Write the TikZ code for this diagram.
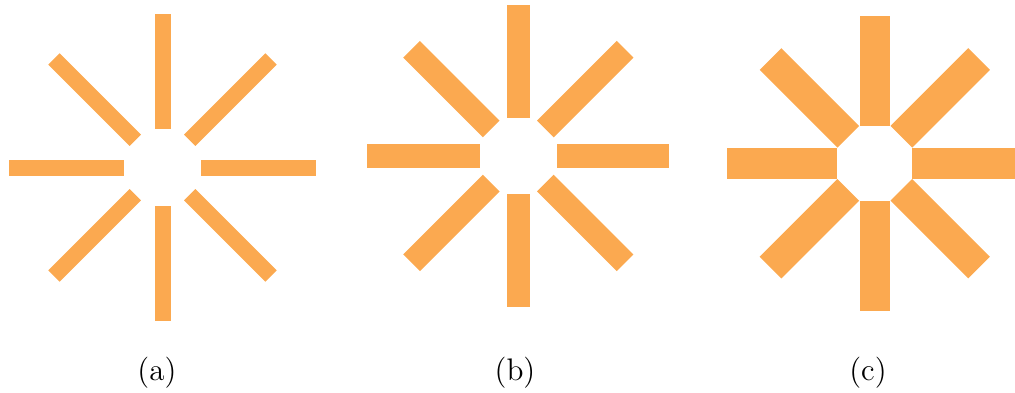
\documentclass[tikz,border=0pt]{standalone}
\usepackage{tikz}
\definecolor{rayC}{HTML}{FBA950}
\tikzset{
  ray/.style={fill=rayC, draw=none},
  sublabel/.style={font=\large, inner sep=0pt},
}
\begin{document}
\begin{tikzpicture}[x=0.01354cm, y=-0.01354cm]
\useasboundingbox (0,0) rectangle (1015,392);
% (a) thin bars
\begin{scope}[shift={(162.5,167.5)}]
  \foreach \a in {0,45,...,315}
    \fill[ray, rotate=\a] (38.5,-8) rectangle (153.5,8);
\end{scope}
% (b) medium bars
\begin{scope}[shift={(518.3,156)}]
  \foreach \a in {0,45,...,315}
    \fill[ray, rotate=\a] (38.3,-11.8) rectangle (151,11.8);
\end{scope}
% (c) wide bars
\begin{scope}[shift={(874.8,163.3)}]
  \foreach \a in {0,45,...,315}
    \fill[ray, rotate=\a] (37.5,-15.3) rectangle (147.5,15.3);
\end{scope}
\node[sublabel] (capa) at (157,373) {(a)};
\node[sublabel] (capb) at (515,373) {(b)};
\node[sublabel] (capc) at (868,373) {(c)};
\end{tikzpicture}
\end{document}
